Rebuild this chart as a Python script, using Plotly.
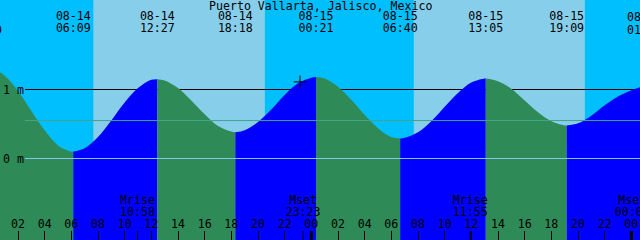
import pandas as pd
import plotly.graph_objects as go

title = "Puerto Vallarta, Jalisco, Mexico"

# hourly tide heights (m), starting 08-14 00:00
sample_start = "2025-08-14 00:00"
heights = [1.31, 1.20, 0.98, 0.69, 0.41, 0.19, 0.10, 0.15, 0.31, 0.55,
           0.81, 1.02, 1.14, 1.13, 1.02, 0.84, 0.64, 0.47, 0.39, 0.41,
           0.53, 0.71, 0.92, 1.09, 1.17, 1.16, 1.04, 0.85, 0.63, 0.44,
           0.31, 0.30, 0.38, 0.54, 0.75, 0.95, 1.10, 1.16, 1.12, 1.01,
           0.84, 0.67, 0.54, 0.48, 0.51, 0.62, 0.77, 0.90, 0.99, 1.06]

extreme_times = ["2025-08-13 23:30", "2025-08-14 06:09", "2025-08-14 12:27",
                 "2025-08-14 18:18", "2025-08-15 00:21", "2025-08-15 06:40",
                 "2025-08-15 13:05", "2025-08-15 19:09", "2025-08-16 01:01"]
extreme_heights = [1.32, 0.10, 1.15, 0.38, 1.18, 0.29, 1.16, 0.48, 1.07]

sunrise_times = ["2025-08-14 07:39", "2025-08-15 07:41"]
sunset_times = ["2025-08-14 20:31", "2025-08-15 20:31"]

moon_times = ["2025-08-14 10:58", "2025-08-14 23:23", "2025-08-15 11:55", "2025-08-16 00:04"]
moon_names = ["Mrise", "Mset", "Mrise", "Mset"]

midnights = ["2025-08-15 00:00", "2025-08-16 00:00"]

now_time = ["2025-08-14 23:09"]
now_height = [1.11]

level_values = [0, 1]
level_labels = ["0 m", "1 m"]
mean_level = 0.55

view_start = "2025-08-14 00:39"
view_end = "2025-08-16 00:39"

# ---------------------------------------------------------------
FONT = "DejaVu Sans Mono"
FS = 11.6
NIGHT = "#00BFFF"
DAY = "#87CEEB"
FLOOD = "#0000FF"
EBB = "#2E8B57"
Y_MIN, Y_MAX = -1.1812, 2.2971
TXT = dict(family=FONT, size=FS, color="black")

st = pd.date_range(sample_start, periods=len(heights), freq="h")
hs = pd.Series(heights, index=st)
ext = pd.to_datetime(pd.Series(extreme_times))
vs, ve = pd.Timestamp(view_start), pd.Timestamp(view_end)

fig = go.Figure()

for i in range(len(ext) - 1):
    a, b = ext[i], ext[i + 1]
    inside = hs[(hs.index > a) & (hs.index < b)]
    xs = [a] + list(inside.index) + [b]
    ys = [extreme_heights[i]] + list(inside.values) + [extreme_heights[i + 1]]
    color = FLOOD if extreme_heights[i + 1] > extreme_heights[i] else EBB
    fig.add_trace(go.Scatter(x=[a, b], y=[Y_MIN, Y_MIN], mode="lines",
                             line=dict(width=0, color=color), hoverinfo="skip",
                             showlegend=False))
    fig.add_trace(go.Scatter(x=xs, y=ys, mode="lines", fill="tonexty",
                             fillcolor=color, line=dict(width=0, color=color,
                             shape="spline", smoothing=1.0),
                             hoverinfo="skip", showlegend=False))

# current time marker
fig.add_trace(go.Scatter(x=now_time, y=now_height, mode="markers",
                         marker=dict(symbol="cross-thin", size=9,
                                     line=dict(width=1, color="black")),
                         showlegend=False, hoverinfo="skip"))

annotations = [dict(text=title, xref="paper", yref="paper", x=0.5, y=1 - 5.5 / 240,
                    xanchor="center", yanchor="middle", showarrow=False, font=TXT)]


def add_label(t, text, ypix):
    """Label centred on time t at a pixel row; off-range labels via paper coords."""
    if vs <= t <= ve:
        fig.add_trace(go.Scatter(x=[t], y=[ypix], yaxis="y2", mode="text",
                                 text=[text], textfont=TXT, cliponaxis=False,
                                 showlegend=False, hoverinfo="skip"))
    else:
        frac = (t - vs) / (ve - vs)
        annotations.append(dict(text=text, xref="paper", yref="paper", x=frac,
                                y=1 - ypix / 240, xanchor="center", yanchor="middle",
                                showarrow=False, font=TXT))


# tide event labels (top)
for t in ext:
    if t >= vs:
        add_label(t, t.strftime("%m-%d"), 17)
    add_label(t, t.strftime("%H:%M"), 29.5)

# moon labels (bottom)
for t, name in zip(pd.to_datetime(pd.Series(moon_times)), moon_names):
    add_label(t, name, 201.5)
    add_label(t, t.strftime("%H:%M"), 213.5)

shapes = []
for sr, ss in zip(sunrise_times, sunset_times):
    shapes.append(dict(type="rect", xref="x", yref="paper", x0=sr, x1=ss, y0=0, y1=1,
                       fillcolor=DAY, line=dict(width=0), layer="below"))
# 1 m line behind water
shapes.append(dict(type="line", xref="paper", yref="y", x0=25 / 640, x1=1,
                   y0=level_values[1], y1=level_values[1],
                   line=dict(color="black", width=1), layer="below"))
# mean and datum lines above water
shapes.append(dict(type="line", xref="paper", yref="y", x0=25 / 640, x1=1,
                   y0=mean_level, y1=mean_level,
                   line=dict(color="#45A38B", width=1), layer="above"))
shapes.append(dict(type="line", xref="paper", yref="y", x0=25 / 640, x1=1,
                   y0=level_values[0], y1=level_values[0],
                   line=dict(color="#80C8E6", width=1), layer="above"))
for m in midnights:
    shapes.append(dict(type="line", xref="x", yref="paper", x0=m, x1=m, y0=0, y1=9 / 240,
                       line=dict(color="black", width=3), layer="above"))
for m in moon_times:
    shapes.append(dict(type="line", xref="x", yref="paper", x0=m, x1=m, y0=0, y1=9 / 240,
                       line=dict(color="black", width=1), layer="above"))

for v, lab in zip(level_values, level_labels):
    annotations.append(dict(text=lab, xref="paper", yref="y", x=1 / 640, y=v,
                            xanchor="left", yanchor="middle", showarrow=False, font=TXT))

fig.update_layout(
    width=640, height=240, autosize=False,
    margin=dict(l=0, r=0, t=0, b=0, pad=0),
    paper_bgcolor=NIGHT, plot_bgcolor=NIGHT,
    shapes=shapes, annotations=annotations,
    xaxis=dict(type="date", range=[view_start, view_end], showgrid=False,
               zeroline=False, showline=False, tickformat="%H",
               tick0="2025-08-14 00:00", dtick=2 * 3600 * 1000,
               ticks="inside", ticklen=9, tickwidth=1, tickcolor="black",
               ticklabelposition="inside", ticklabelstandoff=0,
               tickfont=TXT, fixedrange=True),
    yaxis=dict(range=[Y_MIN, Y_MAX], showgrid=False, zeroline=False,
               showticklabels=False, ticks="", fixedrange=True),
    yaxis2=dict(range=[240, 0], overlaying="y", visible=False, fixedrange=True),
    showlegend=False,
)

fig.write_html("out.html")
